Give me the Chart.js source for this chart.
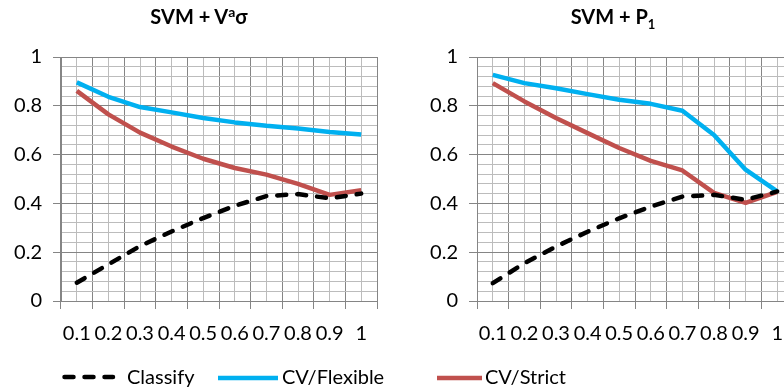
<!DOCTYPE html>
<html><head><meta charset="utf-8">
<script src="https://cdn.jsdelivr.net/npm/chart.js@4"></script>
<style>
html,body{margin:0;padding:0;background:#fff;overflow:hidden;width:784px;height:391px;}
#wrap{position:relative;width:784px;height:391px;overflow:hidden;font-family:Lato,"Open Sans",sans-serif;color:#000;}
canvas{position:absolute;top:0;}
.title{position:absolute;top:6px;font-weight:bold;font-size:20px;line-height:20px;white-space:nowrap;transform:translateX(-50%);}
.title .sup{font-size:14px;position:relative;top:-7px;}
.title .sub{font-size:13px;position:relative;top:5px;}
.leg{position:absolute;top:366px;font-size:20px;line-height:20px;white-space:nowrap;}
svg{position:absolute;left:0;top:0;}
</style></head>
<body>
<div id="wrap">
  <canvas id="c1" width="392" height="391" style="left:0px"></canvas>
  <canvas id="c2" width="420" height="391" style="left:392px"></canvas>
  <div class="title" style="left:199px">SVM + V<span class="sup">a</span>σ</div>
  <div class="title" style="left:613px">SVM + P<span class="sub">1</span></div>
  <svg width="784" height="391">
    <line x1="64.5" y1="377" x2="113" y2="377" stroke="#000" stroke-width="4.5" stroke-dasharray="9 11" stroke-linecap="round"/>
    <line x1="218" y1="378" x2="278" y2="378" stroke="#00B0F0" stroke-width="4.5"/>
    <line x1="437" y1="378" x2="482" y2="378" stroke="#C0504D" stroke-width="4.5"/>
  </svg>
  <div class="leg" style="left:127px">Classify</div>
  <div class="leg" style="left:282px">CV/Flexible</div>
  <div class="leg" style="left:485px">CV/Strict</div>
</div>
<script>
// ---- data ----
const categories = ['0.1','0.2','0.3','0.4','0.5','0.6','0.7','0.8','0.9','1'];
const yTickLabels = ['0','0.2','0.4','0.6','0.8','1'];
const seriesNames = ['Classify','CV/Flexible','CV/Strict'];

// SVM + V^a sigma
const classifyVa = [0.075, 0.150, 0.225, 0.285, 0.340, 0.390, 0.430, 0.438, 0.421, 0.440];
const flexibleVa = [0.896, 0.837, 0.795, 0.773, 0.750, 0.732, 0.718, 0.707, 0.693, 0.682];
const strictVa   = [0.861, 0.765, 0.690, 0.633, 0.583, 0.545, 0.518, 0.480, 0.435, 0.454];

// SVM + P1
const classifyP1 = [0.073, 0.155, 0.223, 0.284, 0.339, 0.387, 0.428, 0.435, 0.415, 0.449];
const flexibleP1 = [0.927, 0.893, 0.872, 0.848, 0.825, 0.808, 0.780, 0.680, 0.538, 0.449];
const strictP1   = [0.893, 0.818, 0.750, 0.688, 0.627, 0.574, 0.535, 0.443, 0.402, 0.447];

// ---- styling ----
const MAJOR = '#858585';
const MINOR = '#bcbcbc';
const FONT = {family: 'Lato, "Open Sans", sans-serif', size: 20};
function isMajor(v){ return Math.abs(v/0.2 - Math.round(v/0.2)) < 1e-6; }

function makeChart(id, classify, flexible, strict, yWidth, padRight){
  return new Chart(document.getElementById(id), {
    type: 'line',
    data: {
      labels: categories,
      datasets: [
        {label: seriesNames[0], data: classify, borderColor: '#000', borderWidth: 4.5,
         borderDash: [9, 11], borderCapStyle: 'round', pointRadius: 0, tension: 0, fill: false},
        {label: seriesNames[1], data: flexible, borderColor: '#00B0F0', borderWidth: 4.5,
         borderJoinStyle: 'round', pointRadius: 0, tension: 0, fill: false},
        {label: seriesNames[2], data: strict, borderColor: '#C0504D', borderWidth: 4.5,
         borderJoinStyle: 'round', pointRadius: 0, tension: 0, fill: false}
      ]
    },
    options: {
      responsive: false, animation: false, devicePixelRatio: 1,
      layout: {padding: {top: 57, right: padRight, bottom: 0, left: 0}},
      plugins: {legend: {display: false}, tooltip: {enabled: false}, title: {display: false}},
      scales: {
        x: {
          type: 'category', offset: true,
          grid: {offset: true, color: MAJOR, lineWidth: 1, drawTicks: true, tickLength: 8, tickColor: MAJOR},
          border: {display: true, color: MAJOR},
          ticks: {font: FONT, color: '#000', padding: 13, maxRotation: 0, minRotation: 0, autoSkip: false},
          afterFit(s){ s.height = 90; }
        },
        xMinor: {
          type: 'category', position: 'bottom', offset: true,
          grid: {offset: false, color: MINOR, lineWidth: 1, drawTicks: false},
          border: {display: false},
          ticks: {display: false}
        },
        y: {
          type: 'linear', min: 0, max: 1,
          ticks: {stepSize: 0.04, autoSkip: false, font: FONT, color: '#000', padding: 11,
                  callback: (v) => isMajor(v) ? yTickLabels[Math.round(v/0.2)] : ''},
          grid: {color: (c) => isMajor(c.tick.value) ? MAJOR : MINOR, lineWidth: 1,
                 tickLength: 8, tickColor: (c) => isMajor(c.tick.value) ? MAJOR : 'rgba(0,0,0,0)'},
          border: {display: true, color: MAJOR},
          afterFit(s){ s.width = yWidth; }
        }
      }
    }
  });
}

makeChart('c1', classifyVa, flexibleVa, strictVa, 61, 15);
makeChart('c2', classifyP1, flexibleP1, strictP1, 85, 19);
</script>
</body></html>
